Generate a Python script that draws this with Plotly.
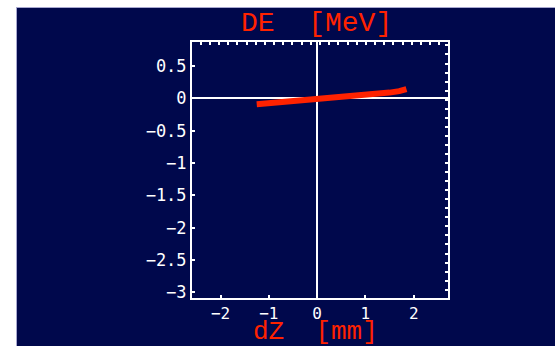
import plotly.graph_objects as go

# data
dz = [-1.25, -1.0, -0.75, -0.5, -0.25, 0.0, 0.25, 0.5, 0.75, 1.0, 1.25, 1.5, 1.7, 1.85]
de = [-0.09, -0.075, -0.06, -0.045, -0.027, -0.008, 0.008, 0.024, 0.04, 0.056, 0.072, 0.09, 0.112, 0.145]

x_ticks = [-2, -1, 0, 1, 2]
y_ticks = [0.5, 0, -0.5, -1, -1.5, -2, -2.5, -3]
y_tick_text = ["0.5", "0", "\u22120.5", "\u22121", "\u22121.5", "\u22122", "\u22122.5", "\u22123"]
x_tick_text = ["\u22122", "\u22121", "0", "1", "2"]

NAVY = "#00084C"
RED = "#FF2200"

W, H = 555, 346
L, R, T, B = 192, 107, 42, 48
PW, PH = W - L - R, H - T - B

def px(x):
    return (x - L) / PW

def py(y):
    return (H - B - y) / PH

fig = go.Figure()
fig.add_trace(go.Scatter(x=dz, y=de, mode="lines",
                         line=dict(color=RED, width=6, shape="linear"),
                         hoverinfo="skip", showlegend=False))
fig.add_trace(go.Scatter(x=[0], y=[0], xaxis="x2", yaxis="y2", mode="markers",
                         marker=dict(opacity=0), hoverinfo="skip", showlegend=False))

xr = [-2.59, 2.71]
yr = [-3.088, 0.873]
ytickfont = dict(family="DejaVu Sans Mono", size=17, color="white")
xtickfont = dict(family="DejaVu Sans Mono", size=16, color="white")

fig.update_layout(
    width=W, height=H,
    margin=dict(l=L, r=R, t=T, b=B),
    paper_bgcolor=NAVY, plot_bgcolor=NAVY,
    xaxis=dict(range=xr, tickvals=x_ticks, ticktext=x_tick_text, ticks="inside",
               ticklen=3, tickcolor="white", tickwidth=1.5, showgrid=False,
               zeroline=True, zerolinecolor="white", zerolinewidth=1.5,
               showline=True, linecolor="white", linewidth=2, mirror=True,
               tickfont=xtickfont, fixedrange=True),
    yaxis=dict(range=yr, tickvals=y_ticks, ticktext=y_tick_text, ticks="inside",
               ticklen=3, tickcolor="white", tickwidth=1.5, showgrid=False,
               zeroline=True, zerolinecolor="white", zerolinewidth=1.5,
               showline=True, linecolor="white", linewidth=2, mirror=True,
               tickfont=ytickfont, fixedrange=True),
    xaxis2=dict(range=xr, overlaying="x", side="top", anchor="y", tick0=-2.6, dtick=0.19,
                ticks="inside", ticklen=3, tickcolor="white", tickwidth=1.5,
                showticklabels=False, showgrid=False, zeroline=False, fixedrange=True),
    yaxis2=dict(range=yr, overlaying="y", side="right", anchor="x", tick0=-3.1, dtick=0.14,
                ticks="inside", ticklen=3, tickcolor="white", tickwidth=1.5,
                showticklabels=False, showgrid=False, zeroline=False, fixedrange=True),
    showlegend=False,
    shapes=[
        dict(type="rect", xref="paper", yref="paper", x0=px(-10), x1=px(16),
             y0=py(H + 10), y1=py(-10), fillcolor="white", line=dict(width=0), layer="above"),
        dict(type="rect", xref="paper", yref="paper", x0=px(-10), x1=px(W + 10),
             y0=py(7), y1=py(-10), fillcolor="white", line=dict(width=0), layer="above"),
        dict(type="line", xref="paper", yref="paper", x0=px(16), x1=px(W + 10),
             y0=py(7.5), y1=py(7.5), line=dict(color="#A8A8D0", width=1), layer="above"),
        dict(type="line", xref="paper", yref="paper", x0=px(16.5), x1=px(16.5),
             y0=py(7), y1=py(H + 10), line=dict(color="#A8A8D0", width=1), layer="above"),
    ],
    annotations=[
        dict(text="DE&nbsp;&nbsp;[MeV]", xref="paper", yref="paper", x=px(316), y=py(23),
             xanchor="center", yanchor="middle", showarrow=False,
             font=dict(family="Liberation Mono", size=28, color=RED)),
        dict(text="dZ&nbsp;&nbsp;[mm]", xref="paper", yref="paper", x=px(315), y=py(332),
             xanchor="center", yanchor="middle", showarrow=False, borderpad=0,
             font=dict(family="Liberation Mono", size=26, color=RED)),
    ],
)

fig.write_html("out.html", config={"displayModeBar": False},
               post_script="document.body.style.margin='0';document.body.style.overflow='hidden';")
